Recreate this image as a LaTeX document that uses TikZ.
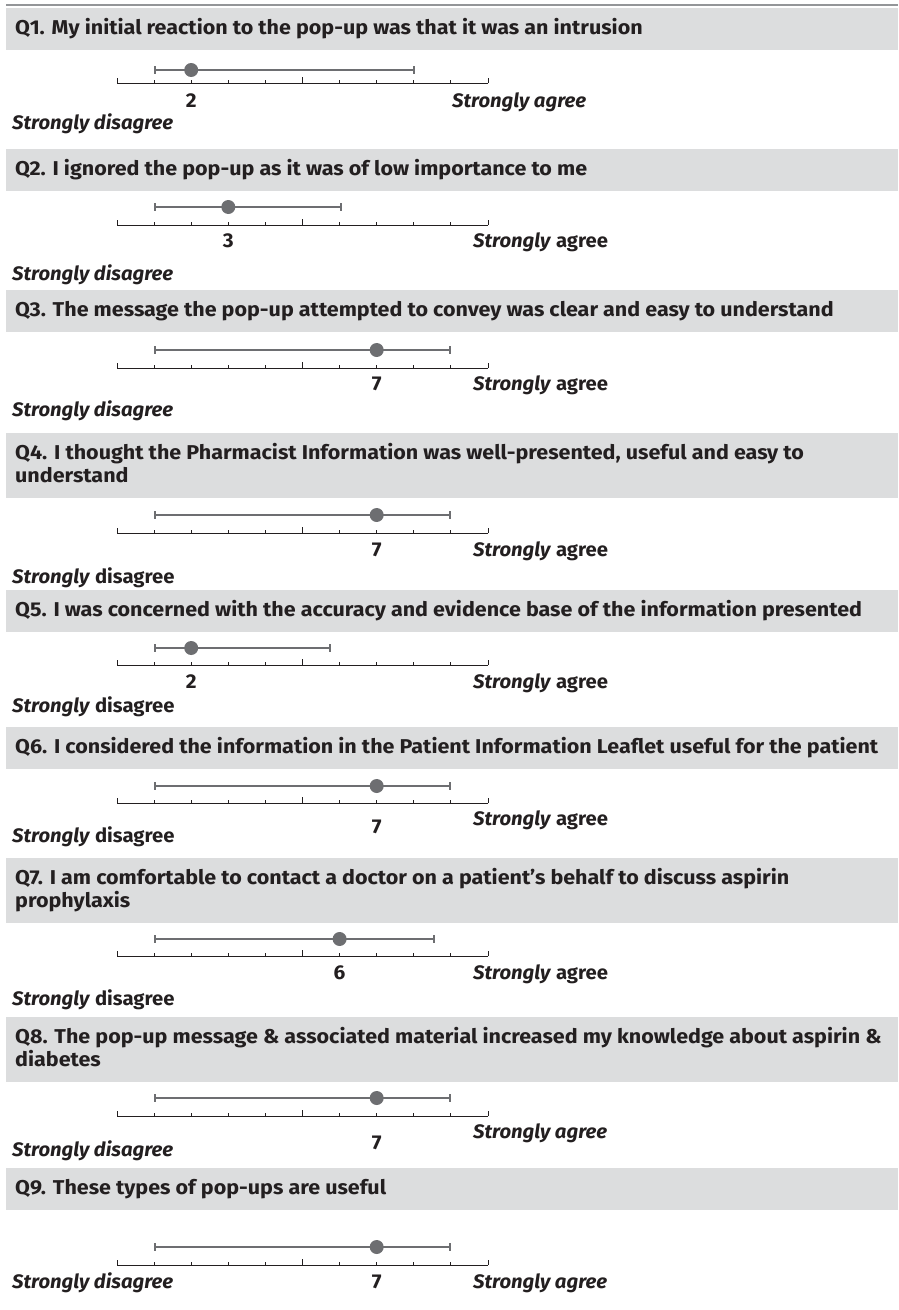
\documentclass[tikz,border=0pt]{standalone}
\usepackage{fontspec}
\setmainfont{Fira Sans}
\newfontfamily\hdrfont{Fira Sans}[FakeStretch=1.075]
\newfontfamily\lblfont{Fira Sans}[FakeStretch=1.04]
\definecolor{ink}{HTML}{231F20}
\definecolor{hdrfill}{HTML}{DCDDDE}
\definecolor{barcol}{HTML}{6D6E71}
\definecolor{rulecol}{HTML}{939598}
\tikzset{
  hdrbox/.style={fill=hdrfill, draw=none, anchor=north west, minimum width=892pt, inner sep=0pt, outer sep=0pt},
  qtext/.style={anchor=base west, align=left, inner sep=0pt, font=\hdrfont\fontsize{20}{23}\selectfont\bfseries, text=ink},
  numlbl/.style={anchor=base, inner sep=0pt, font=\lblfont\fontsize{20}{22}\selectfont\bfseries, text=ink},
  endlbl/.style={anchor=base west, inner sep=0pt, font=\lblfont\fontsize{19.5}{22}\selectfont\bfseries, text=ink},
  axisline/.style={draw=ink, line width=1pt},
  tickline/.style={draw=ink, line width=0.9pt},
  errbar/.style={draw=barcol, line width=1.6pt},
  capbar/.style={draw=barcol, line width=1.2pt},
  dotmark/.style={circle, fill=barcol, minimum size=14pt, inner sep=0pt},
}
% #1 id, #2 axis y, #3 bar y, #4 bar left x, #5 bar right x, #6 dot value
\newcommand{\likertaxis}[6]{%
  \coordinate (#1L) at (117,#2);
  \coordinate (#1R) at (488,#2);
  \draw[axisline] (#1L) -- (#1R);
  \foreach \k/\h in {0/5,1/3,2/3,3/3,4/3,5/6,6/3,7/3,8/3,9/3,10/5}{
    \coordinate (#1t\k) at ({117+37.1*\k},#2);
    \draw[tickline] (#1t\k) -- ++(0,-\h);
  }
  \coordinate (#1bl) at (#4,#3);
  \coordinate (#1br) at (#5,#3);
  \draw[errbar] (#1bl) -- (#1br);
  \draw[capbar] (#1bl) ++(0,-4) -- ++(0,8);
  \draw[capbar] (#1br) ++(0,-4) -- ++(0,8);
  \node[dotmark] (#1dot) at ({117+37.1*#6},#3) {};
}
\begin{document}
\begin{tikzpicture}[x=1pt,y=-1pt]
\useasboundingbox (0,0) rectangle (898,1310);
\coordinate (ruleL) at (6,5);
\coordinate (ruleR) at (898,5);
\draw[rulecol, line width=2.6pt] (ruleL) -- (ruleR);

% Q1
\node[hdrbox, minimum height=42pt] (q1box) at (6,8) {};
\node[qtext] (q1text) at (15,34) {Q1. My initial reaction to the pop-up was that it was an intrusion};
\likertaxis{q1}{83}{70}{155}{414}{2}
\node[numlbl] (q1num) at (q1dot |- 0,107) {2};
\node[endlbl] (q1sa) at (452,107) {\textit{Strongly agree}};
\node[endlbl] (q1sd) at (12,129) {\textit{Strongly disagree}};

% Q2
\node[hdrbox, minimum height=42pt] (q2box) at (6,149) {};
\node[qtext] (q2text) at (15,175) {Q2. I ignored the pop-up as it was of low importance to me};
\likertaxis{q2}{225}{207}{155}{341}{3}
\node[numlbl] (q2num) at (q2dot |- 0,247) {3};
\node[endlbl] (q2sa) at (473,247) {\textit{Strongly} agree};
\node[endlbl] (q2sd) at (12,280) {\textit{Strongly disagree}};

% Q3
\node[hdrbox, minimum height=42pt] (q3box) at (6,290) {};
\node[qtext] (q3text) at (15,316) {Q3. The message the pop-up attempted to convey was clear and easy to understand};
\likertaxis{q3}{368}{350}{155}{450}{7}
\node[numlbl] (q3num) at (q3dot |- 0,390) {7};
\node[endlbl] (q3sa) at (473,390) {\textit{Strongly} agree};
\node[endlbl] (q3sd) at (12,416) {\textit{Strongly disagree}};

% Q4
\node[hdrbox, minimum height=65pt] (q4box) at (6,433) {};
\node[qtext] (q4text) at (15,482) {Q4. I thought the Pharmacist Information was well-presented, useful and easy to\\understand};
\likertaxis{q4}{533}{515}{155}{450}{7}
\node[numlbl] (q4num) at (q4dot |- 0,556) {7};
\node[endlbl] (q4sa) at (473,556) {\textit{Strongly} agree};
\node[endlbl] (q4sd) at (12,583) {\textit{Strongly} disagree};

% Q5
\node[hdrbox, minimum height=42pt] (q5box) at (6,590) {};
\node[qtext] (q5text) at (15,616) {Q5. I was concerned with the accuracy and evidence base of the information presented};
\likertaxis{q5}{665}{648}{155}{330}{2}
\node[numlbl] (q5num) at (q5dot |- 0,688) {2};
\node[endlbl] (q5sa) at (473,688) {\textit{Strongly} agree};
\node[endlbl] (q5sd) at (12,712) {\textit{Strongly} disagree};

% Q6
\node[hdrbox, minimum height=42pt] (q6box) at (6,727) {};
\node[qtext] (q6text) at (15,753) {Q6. I considered the information in the Patient Information Leaflet useful for the patient};
\likertaxis{q6}{803}{786}{155}{450}{7}
\node[numlbl] (q6num) at (q6dot |- 0,833) {7};
\node[endlbl] (q6sa) at (473,825) {\textit{Strongly} agree};
\node[endlbl] (q6sd) at (12,842) {\textit{Strongly} disagree};

% Q7
\node[hdrbox, minimum height=65pt] (q7box) at (6,858) {};
\node[qtext] (q7text) at (15,907) {Q7. I am comfortable to contact a doctor on a patient’s behalf to discuss aspirin\\prophylaxis};
\likertaxis{q7}{956}{939}{155}{434}{6}
\node[numlbl] (q7num) at (q7dot |- 0,979) {6};
\node[endlbl] (q7sa) at (473,979) {\textit{Strongly} agree};
\node[endlbl] (q7sd) at (12,1005) {\textit{Strongly} disagree};

% Q8
\node[hdrbox, minimum height=65pt] (q8box) at (6,1017) {};
\node[qtext] (q8text) at (15,1066) {Q8. The pop-up message \& associated material increased my knowledge about aspirin \&\\diabetes};
\likertaxis{q8}{1116}{1098}{155}{450}{7}
\node[numlbl] (q8num) at (q8dot |- 0,1149) {7};
\node[endlbl] (q8sa) at (473,1138) {\textit{Strongly agree}};
\node[endlbl] (q8sd) at (12,1156) {\textit{Strongly disagree}};

% Q9
\node[hdrbox, minimum height=42pt] (q9box) at (6,1168) {};
\node[qtext] (q9text) at (15,1194) {Q9. These types of pop-ups are useful};
\likertaxis{q9}{1265}{1247}{155}{450}{7}
\node[numlbl] (q9num) at (q9dot |- 0,1288) {7};
\node[endlbl] (q9sa) at (473,1288) {\textit{Strongly agree}};
\node[endlbl] (q9sd) at (12,1288) {\textit{Strongly disagree}};
\end{tikzpicture}
\end{document}
